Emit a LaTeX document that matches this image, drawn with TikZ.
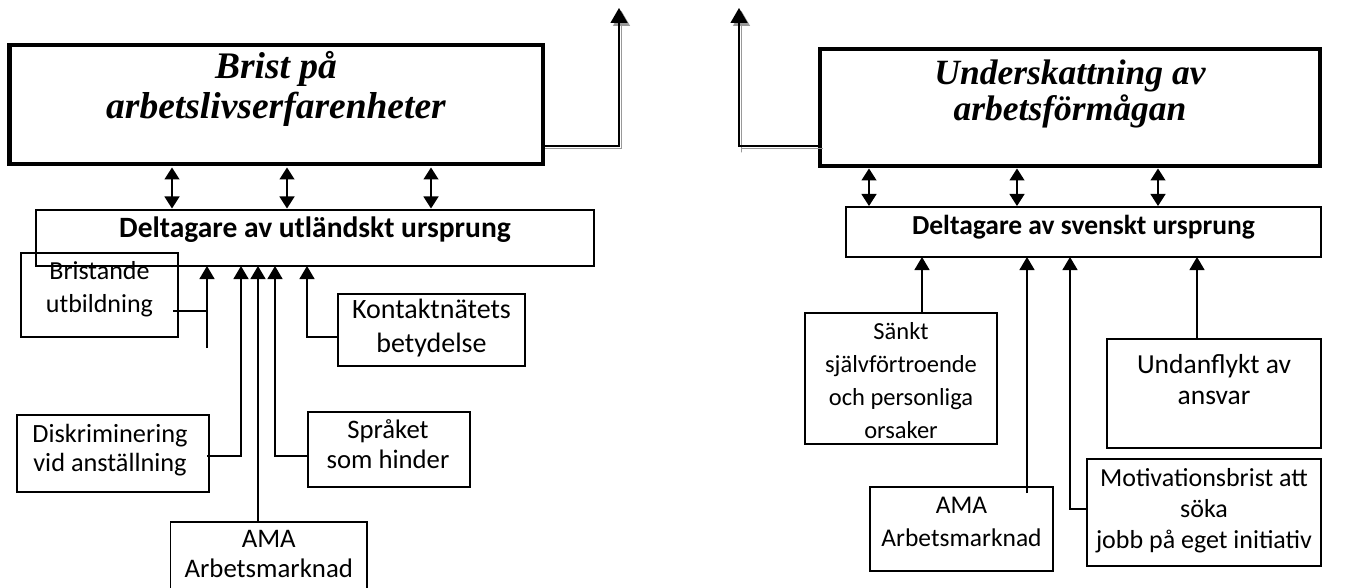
\documentclass[tikz,border=0pt]{standalone}
\usepackage{fontspec}
\setmainfont{Carlito}
\newfontfamily\headfont{Liberation Serif}
\usetikzlibrary{arrows.meta,calc}
\newcommand\lns[1]{\begin{tabular}[t]{@{}c@{}}#1\end{tabular}}
\begin{document}
\begin{tikzpicture}[x=1pt,y=-1pt,
  thickbox/.style={draw, line width=4.5pt, inner sep=0pt, outer sep=0pt},
  thinbox/.style={draw, line width=1.8pt, inner sep=0pt, outer sep=0pt},
  conn/.style={line width=1.3pt},
  upar/.style={conn, -{Triangle[width=15pt,length=13pt]}},
  dblar/.style={conn, {Triangle[width=15pt,length=12pt]}-{Triangle[width=15pt,length=12pt]}},
  toparr/.style={line width=1.4pt, -{Triangle[width=17pt,length=15pt]}},
  shadowarr/.style={line width=1.4pt, draw=black!40, -{Triangle[width=17pt,length=15pt,fill=black!40]}},
  txt/.style={anchor=base, inner sep=0pt},
  headtxt/.style={anchor=base, inner sep=0pt},
  midtxt/.style={anchor=base, inner sep=0pt}
]
\fill[white] (0,0) rectangle (1362,588);
\useasboundingbox (0,0) rectangle (1362,588);

% top boxes
\node[thickbox, minimum width=533.5pt, minimum height=119pt] (TL) at (276.25,104.5) {};
\node[thickbox, minimum width=500pt, minimum height=117pt] (TR) at (1070,107.5) {};
\node[headtxt, font=\headfont\bfseries\itshape\fontsize{37.5}{40}\selectfont] (TLt) at (276,79) {\lns{Brist på\\arbetslivserfarenheter}};
\node[headtxt, font=\headfont\bfseries\itshape\fontsize{35.5}{34}\selectfont] (TRt) at (1070,85) {\lns{Underskattning av\\arbetsförmågan}};

% middle boxes
\node[thinbox, minimum width=558pt, minimum height=56pt] (ML) at (315,238) {};
\node[thinbox, minimum width=475pt, minimum height=50pt] (MR) at (1083.5,232) {};
\node[midtxt, font=\bfseries\fontsize{29.5}{32}\selectfont] (MLt) at (315,237) {Deltagare av utländskt ursprung};
\node[midtxt, font=\bfseries\fontsize{27.5}{32}\selectfont] (MRt) at (1083.5,234) {Deltagare av svenskt ursprung};

% left sub boxes
\node[thinbox, minimum width=157pt, minimum height=84pt] (Br) at (99.5,295) {};
\node[txt, font=\fontsize{26}{33}\selectfont] (Brt) at (99.5,279) {\lns{Bristande\\utbildning}};
\node[thinbox, minimum width=187pt, minimum height=72pt] (Ko) at (431.5,330) {};
\node[txt, font=\fontsize{28}{34}\selectfont] (Kot) at (431.5,318) {\lns{Kontaktnätets\\betydelse}};
\node[thinbox, minimum width=192pt, minimum height=77pt] (Di) at (113,453.5) {};
\node[txt, font=\fontsize{26.3}{29}\selectfont] (Dit) at (110,442) {\lns{Diskriminering\\vid anställning}};
\node[thinbox, minimum width=162pt, minimum height=75pt] (Sp) at (389,449.5) {};
\node[txt, font=\fontsize{26.7}{30}\selectfont] (Spt) at (388,438) {\lns{Språket\\som hinder}};
\node[thinbox, minimum width=196.5pt, minimum height=80pt] (AL) at (268.75,562) {};
\node[txt, font=\fontsize{26.8}{30}\selectfont] (ALt) at (268.75,547) {\lns{AMA\\Arbetsmarknad}};

% right sub boxes
\node[thinbox, minimum width=192pt, minimum height=131pt] (Sa) at (901,378.5) {};
\node[txt, font=\fontsize{24.5}{33}\selectfont] (Sat) at (901,339) {\lns{Sänkt\\självförtroende\\och personliga\\orsaker}};
\node[thinbox, minimum width=214pt, minimum height=109pt] (Un) at (1214,393.5) {};
\node[txt, font=\fontsize{27.5}{31}\selectfont] (Unt) at (1214,373) {\lns{Undanflykt av\\ansvar}};
\node[thinbox, minimum width=183pt, minimum height=84pt] (AR) at (961.5,529) {};
\node[txt, font=\fontsize{25.5}{33}\selectfont] (ARt) at (961.5,513) {\lns{AMA\\Arbetsmarknad}};
\node[thinbox, minimum width=234pt, minimum height=107pt] (Mo) at (1204,512.5) {};
\node[txt, font=\fontsize{26}{31}\selectfont] (Mot) at (1204,486) {\lns{Motivationsbrist att\\söka\\jobb på eget initiativ}};

% top arrows with shadows
\coordinate (cL) at (619,146);
\coordinate (tL) at (619,8);
\coordinate (cLs) at (621.5,148.5);
\coordinate (tLs) at (621.5,11);
\coordinate (cR) at (739,146);
\coordinate (tR) at (739,8);
\coordinate (cRs) at (741.5,148.5);
\coordinate (tRs) at (741.5,11);
\draw[shadowarr] ($(TL.east |- cLs)+(2,0)$) -- (cLs) -- (tLs);
\draw[toparr] (TL.east |- cL) -- (cL) -- (tL);
\draw[shadowarr] ($(TR.west |- cRs)+(3,0)$) -- (cRs) -- ($(cRs)+(0,4)$) -- (tRs);
\draw[toparr] (TR.west |- cR) -- (cR) -- (tR);

% double arrows
\foreach \xx/\nm in {172/dl1,287/dl2,431/dl3}{
  \coordinate (\nm) at (\xx,0);
  \draw[dblar, shorten <=3.5pt, shorten >=1.5pt] (\nm |- TL.south) -- (\nm |- ML.north);
}
\foreach \xx/\nm in {869/dr1,1017/dr2,1158/dr3}{
  \coordinate (\nm) at (\xx,0);
  \draw[dblar, shorten <=2.5pt, shorten >=1pt] (\nm |- TR.south) -- (\nm |- MR.north);
}

% left connectors
\coordinate (bj) at (207,311);
\coordinate (bb) at (207,348);
\draw[conn] ($(Br.east |- bj)+(-5,0)$) -- (bj);
\draw[upar] (bb) -- (bb |- ML.south);
\coordinate (dj) at (241,456);
\draw[upar] ($(Di.east |- dj)+(-2,0)$) -- (dj) -- (dj |- ML.south);
\coordinate (aj) at (258,0);
\draw[upar] (aj |- AL.north) -- (aj |- ML.south);
\coordinate (sj) at (275,456);
\draw[upar] (Sp.west |- sj) -- (sj) -- (sj |- ML.south);
\coordinate (kj) at (307,337);
\draw[upar] (Ko.west |- kj) -- (kj) -- (kj |- ML.south);

% right connectors
\coordinate (rj1) at (922,0);
\draw[upar] (rj1 |- Sa.north) -- (rj1 |- MR.south);
\coordinate (rj2) at (1027,0);
\draw[upar] ($(rj2 |- AR.north)+(0,6)$) -- (rj2 |- MR.south);
\coordinate (mj) at (1070,509);
\draw[upar] (Mo.west |- mj) -- (mj) -- (mj |- MR.south);
\coordinate (rj4) at (1197,0);
\draw[upar] (rj4 |- Un.north) -- (rj4 |- MR.south);
\end{tikzpicture}
\end{document}
